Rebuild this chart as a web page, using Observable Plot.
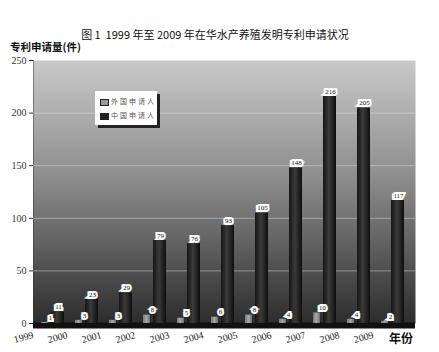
<!DOCTYPE html>
<html>
<head>
<meta charset="utf-8">
<script src="https://cdn.jsdelivr.net/npm/d3@7"></script>
<script src="https://cdn.jsdelivr.net/npm/@observablehq/plot@0.6"></script>
<style>
  body { margin: 0; background: #fff; }
  #wrap { position: relative; width: 439px; height: 352px; overflow: hidden; }
  #wrap svg { position: absolute; left: 0; top: 0; }
  .t { position: absolute; font-family: "Noto Sans CJK SC", sans-serif; color: #111; white-space: nowrap; line-height: 1; }
  #legend { position: absolute; left: 95px; top: 91px; width: 62px; height: 34px; background: #fff;
            box-shadow: 3px 3px 0 #222; font-family: "Noto Sans CJK SC", sans-serif; font-size: 7px; color: #555; }
  #legend .row { position: absolute; left: 5px; letter-spacing: 2px; }
  #legend .sw { display: inline-block; width: 7px; height: 5px; margin-right: 2px; vertical-align: middle; border: 1px solid #222; }
</style>
</head>
<body>
<div id="wrap">
  <div class="t" style="left:0;width:430px;text-align:center;top:29px;font-size:11px;">图 1&nbsp; 1999 年至 2009 年在华水产养殖发明专利申请状况</div>
  <div class="t" style="left:10px;top:42px;font-size:10.5px;font-weight:bold;">专利申请量(件)</div>
  <div class="t" style="left:389px;top:332px;font-size:12px;font-weight:bold;">年份</div>
</div>
<script>
const years = ["1999","2000","2001","2002","2003","2004","2005","2006","2007","2008","2009"];
const foreign = [1, 3, 3, 8, 5, 6, 8, 4, 10, 4, 2];
const domestic = [11, 23, 29, 79, 76, 93, 105, 148, 216, 205, 117];
const seriesNames = ["外国申请人", "中国申请人"];
const yTicks = [0, 50, 100, 150, 200, 250];

const fData = years.map((y, i) => ({year: y, value: foreign[i]}));
const dData = years.map((y, i) => ({year: y, value: domestic[i]}));

const plot = Plot.plot({
  width: 439,
  height: 352,
  marginLeft: 33,
  marginRight: 24,
  marginTop: 60,
  marginBottom: 29,
  style: {fontFamily: "Liberation Serif", fontSize: "10px", background: "transparent", color: "#333"},
  x: {type: "band", domain: years, range: [33, 408], padding: 0, axis: null},
  y: {domain: [0, 250], ticks: yTicks, tickSize: 4, label: null, line: true, tickPadding: 3},
  marks: [
    Plot.frame({fill: "url(#wallGrad)", stroke: "none"}),
    Plot.ruleY(yTicks.filter(t => t > 0 && t < 250), {stroke: "#e6e6e6", strokeOpacity: 0.45}),
    Plot.ruleY([0], {stroke: "#111", strokeWidth: 6, dy: 2}),
    Plot.barY(fData, {x: "year", y: "value", insetLeft: 7, insetRight: 20, fill: "url(#lightBar)"}),
    Plot.barY(dData, {x: "year", y: "value", insetLeft: 17, insetRight: 4, fill: "url(#darkBar)"}),
    Plot.text(fData, {x: "year", y: "value", text: d => String(d.value), dx: -1, dy: -5, fontSize: 7,
      fill: "#111", stroke: "#fff", strokeWidth: 4, strokeLinejoin: "miter"}),
    Plot.text(dData, {x: "year", y: "value", text: d => String(d.value), dx: 7, dy: -5, fontSize: 7,
      fill: "#111", stroke: "#fff", strokeWidth: 4, strokeLinejoin: "miter"}),
    Plot.text(years, {x: d => d, text: d => d, frameAnchor: "bottom", dy: 17, dx: -27, rotate: -15,
      fontSize: 10, fill: "#222"})
  ]
});

const defs = d3.select(plot).insert("defs", ":first-child");
const wg = defs.append("linearGradient").attr("id", "wallGrad").attr("x1", 0).attr("y1", 0).attr("x2", 0).attr("y2", 1);
wg.append("stop").attr("offset", "0%").attr("stop-color", "#c9c9c9");
wg.append("stop").attr("offset", "45%").attr("stop-color", "#8c8c8c");
wg.append("stop").attr("offset", "100%").attr("stop-color", "#2c2c2c");
const db = defs.append("linearGradient").attr("id", "darkBar").attr("x1", 0).attr("y1", 0).attr("x2", 1).attr("y2", 0);
db.append("stop").attr("offset", "0%").attr("stop-color", "#151515");
db.append("stop").attr("offset", "45%").attr("stop-color", "#3a3a3a");
db.append("stop").attr("offset", "100%").attr("stop-color", "#0e0e0e");
const lb = defs.append("linearGradient").attr("id", "lightBar").attr("x1", 0).attr("y1", 0).attr("x2", 1).attr("y2", 0);
lb.append("stop").attr("offset", "0%").attr("stop-color", "#7a7a7a");
lb.append("stop").attr("offset", "50%").attr("stop-color", "#a8a8a8");
lb.append("stop").attr("offset", "100%").attr("stop-color", "#6a6a6a");

const wrap = document.getElementById("wrap");
wrap.insertBefore(plot, wrap.firstChild);

const legend = document.createElement("div");
legend.id = "legend";
const swColors = ["#9a9a9a", "#222"];
seriesNames.forEach((name, i) => {
  const row = document.createElement("div");
  row.className = "row";
  row.style.top = (5 + i * 14) + "px";
  row.innerHTML = `<span class="sw" style="background:${swColors[i]}"></span>${name}`;
  legend.appendChild(row);
});
wrap.appendChild(legend);
</script>
</body>
</html>
